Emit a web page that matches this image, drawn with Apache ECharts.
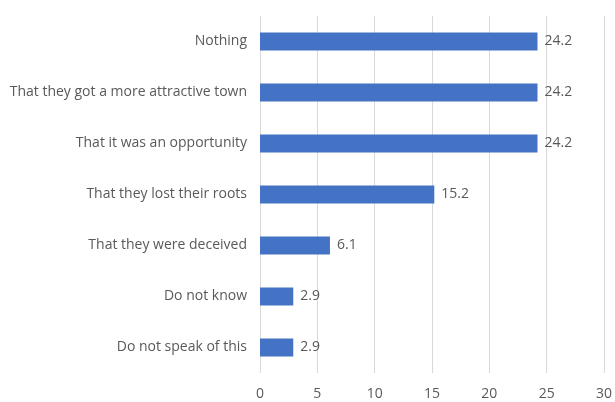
<!DOCTYPE html>
<html>
<head>
<meta charset="utf-8">
<script src="https://cdn.jsdelivr.net/npm/echarts@6/dist/echarts.min.js"></script>
<style>
  html, body { margin: 0; padding: 0; background: #fff; }
  #chart { width: 615px; height: 402px; }
</style>
</head>
<body>
<div id="chart"></div>
<script>
// Answers listed from bottom to top (category axis runs upward)
const categories = [
  'Do not speak of this',
  'Do not know',
  'That they were deceived',
  'That they lost their roots',
  'That it was an opportunity',
  'That they got a more attractive town',
  'Nothing'
];
const values = [2.9, 2.9, 6.1, 15.2, 24.2, 24.2, 24.2];
const xTicks = { min: 0, max: 30, interval: 5 };

const textColor = '#595959';
const font = '"Open Sans", "Liberation Sans", sans-serif';

const chart = echarts.init(document.getElementById('chart'), null, { renderer: 'canvas' });
chart.setOption({
  animation: false,
  grid: { left: 260, right: 8, top: 16, bottom: 29, containLabel: false },
  xAxis: {
    type: 'value',
    min: xTicks.min,
    max: xTicks.max,
    interval: xTicks.interval,
    axisLine: { show: false },
    axisTick: { show: false },
    splitLine: { show: true, lineStyle: { color: '#d9d9d9', width: 1 } },
    axisLabel: { color: textColor, fontFamily: font, fontSize: 14, margin: 14 }
  },
  yAxis: {
    type: 'category',
    data: categories,
    axisLine: { show: false },
    axisTick: { show: false },
    axisLabel: { color: textColor, fontFamily: font, fontSize: 14, margin: 13 }
  },
  series: [{
    type: 'bar',
    data: values,
    barWidth: 18,
    itemStyle: { color: '#4472C4' },
    label: {
      show: true,
      position: 'right',
      distance: 7,
      color: textColor,
      fontFamily: font,
      fontSize: 14,
      formatter: p => p.value.toFixed(1)
    }
  }]
});
</script>
</body>
</html>
